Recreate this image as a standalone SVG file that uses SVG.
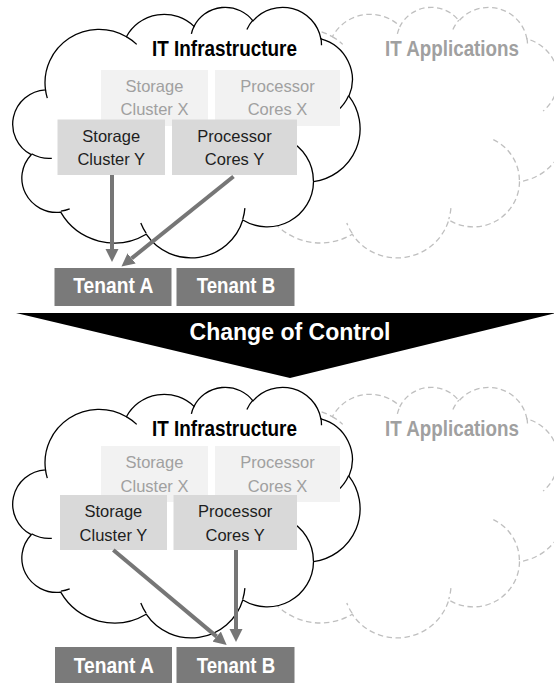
<svg xmlns="http://www.w3.org/2000/svg" xmlns:xlink="http://www.w3.org/1999/xlink" width="554" height="683" viewBox="0 0 554 683">
<style>
.cloud{fill:#fff;stroke:#000;stroke-width:1.3}
.tails{fill:none;stroke:#000;stroke-width:1.3}
.dcloud{fill:#fff;stroke:#bfbfbf;stroke-width:1.3;stroke-dasharray:5.5 3.5}
.dtails{fill:none;stroke:#bfbfbf;stroke-width:1.3;stroke-dasharray:5.5 3.5}
.bx{fill:#f2f2f2}
.by{fill:#d9d9d9}
.bt{fill:#7a7a7a}
text{font-family:"Liberation Sans",Arial,sans-serif}
.tx{font-size:16.5px;fill:#a0a0a0;text-anchor:middle}
.ty{font-size:16.5px;fill:#1e1e1e;text-anchor:middle}
.tt{font-size:22px;font-weight:bold;fill:#fff}
.h{font-size:22px;font-weight:bold;fill:#000}
.ha{font-size:22px;font-weight:bold;fill:#a0a0a0}
.ban{font-size:23px;font-weight:bold;fill:#fff;text-anchor:middle}
.arr{stroke:#767676;stroke-width:4;fill:none;marker-end:url(#ah)}
</style>
<defs>
<marker id="ah" markerUnits="userSpaceOnUse" markerWidth="14" markerHeight="14" viewBox="0 -7 14 14" refX="0" refY="0" orient="auto">
<path d="M0,-6.5 L13,0 L0,6.5 Z" fill="#767676"/>
</marker>
<path id="cloudShape" d="M45.5,89.8 A54.02,53.3 0 0 1 126.4,36.7 A42.66,42.15 0 0 1 194,26.4 A34.92,34.48 0 0 1 253,20.9 A38.86,38.25 0 0 1 320.9,38.9 A42.66,42.18 0 0 1 348.9,96.2 A54.2,53.48 0 0 1 313.5,181.7 A46.28,45.63 0 0 1 242.8,220 A54.02,53.45 0 0 1 146.2,234.2 A61.76,61.15 0 0 1 60.7,212.2 A34.88,34.32 0 0 1 31.2,154.7 A34.76,34.48 0 0 1 45.5,89.8 Z"/>
<path id="cloudTails" d="M51.8,158.3 A34.76,34.48 0 0 1 31.6,153.7 M69.7,208.9 A34.88,34.32 0 0 1 60.9,211.1 M146.1,233.2 A54.02,53.45 0 0 1 140.8,223.1 M244.9,208.1 A54.02,53.45 0 0 1 242.8,219.1 M287.3,139.6 A46.28,45.63 0 0 1 313.4,181 M348.7,95.6 A42.66,42.18 0 0 1 337.1,111.1 M320.9,38 A38.86,38.25 0 0 1 321.5,45.3 M246.9,29.4 A38.86,38.25 0 0 1 252.9,20.1 M191.4,33.9 A34.92,34.48 0 0 1 194.3,25.8 M126.3,36.6 A54.02,53.3 0 0 1 136.7,44.4 M47.3,98.1 A54.02,53.3 0 0 1 45.5,89.8"/>
</defs>

<!-- TOP SECTION -->
<g id="apps-cloud-top">
<use xlink:href="#cloudShape" class="dcloud" transform="translate(206,0)"/>
<use xlink:href="#cloudTails" class="dtails" transform="translate(206,0)"/>
<text class="ha" x="385" y="56" textLength="134" lengthAdjust="spacingAndGlyphs">IT Applications</text>
</g>
<g id="infra-cloud-top">
<use xlink:href="#cloudShape" class="cloud"/>
<use xlink:href="#cloudTails" class="tails"/>
<text class="h" x="152" y="56" textLength="145" lengthAdjust="spacingAndGlyphs">IT Infrastructure</text>
</g>
<g id="storage-x-top">
<rect class="bx" x="101" y="70" width="107" height="56"/>
<text class="tx" x="154.5" y="91.7">Storage</text>
<text class="tx" x="154.5" y="115">Cluster X</text>
</g>
<g id="processor-x-top">
<rect class="bx" x="215" y="70" width="125" height="56"/>
<text class="tx" x="277.5" y="91.7">Processor</text>
<text class="tx" x="277.5" y="115">Cores X</text>
</g>
<g id="storage-y-top">
<rect class="by" x="57.5" y="119.5" width="107.5" height="55.5"/>
<text class="ty" x="111.2" y="141.5">Storage</text>
<text class="ty" x="111.2" y="165">Cluster Y</text>
</g>
<g id="processor-y-top">
<rect class="by" x="172" y="119.5" width="125" height="55.5"/>
<text class="ty" x="234.5" y="141.5">Processor</text>
<text class="ty" x="234.5" y="165">Cores Y</text>
</g>
<g id="tenant-a-top">
<rect class="bt" x="54.5" y="268" width="117" height="38"/>
<text class="tt" x="73.3" y="293.3" textLength="80" lengthAdjust="spacingAndGlyphs">Tenant A</text>
</g>
<g id="tenant-b-top">
<rect class="bt" x="176.5" y="268" width="118" height="38"/>
<text class="tt" x="196.7" y="293.3" textLength="78.5" lengthAdjust="spacingAndGlyphs">Tenant B</text>
</g>

<!-- BANNER -->
<g id="change-of-control">
<polygon points="16,313 556,313 290,378" fill="#000"/>
<text class="ban" x="290" y="340" textLength="201" lengthAdjust="spacingAndGlyphs">Change of Control</text>
</g>

<!-- BOTTOM SECTION -->
<g id="apps-cloud-bottom">
<use xlink:href="#cloudShape" class="dcloud" transform="translate(206,380)"/>
<use xlink:href="#cloudTails" class="dtails" transform="translate(206,380)"/>
<text class="ha" x="385" y="436" textLength="134" lengthAdjust="spacingAndGlyphs">IT Applications</text>
</g>
<g id="infra-cloud-bottom">
<use xlink:href="#cloudShape" class="cloud" transform="translate(0,380)"/>
<use xlink:href="#cloudTails" class="tails" transform="translate(0,380)"/>
<text class="h" x="152" y="436" textLength="145" lengthAdjust="spacingAndGlyphs">IT Infrastructure</text>
</g>
<g id="storage-x-bottom">
<rect class="bx" x="101" y="446" width="107" height="56"/>
<text class="tx" x="154.5" y="468">Storage</text>
<text class="tx" x="154.5" y="491.5">Cluster X</text>
</g>
<g id="processor-x-bottom">
<rect class="bx" x="215" y="446" width="125" height="56"/>
<text class="tx" x="277.5" y="468">Processor</text>
<text class="tx" x="277.5" y="491.5">Cores X</text>
</g>
<g id="storage-y-bottom">
<rect class="by" x="60" y="495" width="107" height="55"/>
<text class="ty" x="113.4" y="517">Storage</text>
<text class="ty" x="113.4" y="540.5">Cluster Y</text>
</g>
<g id="processor-y-bottom">
<rect class="by" x="173.5" y="495" width="123.5" height="55"/>
<text class="ty" x="235.2" y="517">Processor</text>
<text class="ty" x="235.2" y="540.5">Cores Y</text>
</g>
<g id="tenant-a-bottom">
<rect class="bt" x="55" y="647" width="117" height="38"/>
<text class="tt" x="73.8" y="672.5" textLength="80" lengthAdjust="spacingAndGlyphs">Tenant A</text>
</g>
<g id="tenant-b-bottom">
<rect class="bt" x="176.5" y="647" width="118" height="38"/>
<text class="tt" x="196.7" y="672.5" textLength="78.5" lengthAdjust="spacingAndGlyphs">Tenant B</text>
</g>

<!-- CONNECTORS -->
<g id="connectors">
<line class="arr" x1="112" y1="175" x2="112" y2="249"/>
<line class="arr" x1="233.5" y1="176.5" x2="131.6" y2="258.4"/>
<line class="arr" x1="113.3" y1="550" x2="216.7" y2="636.6"/>
<line class="arr" x1="236" y1="550" x2="236" y2="629"/>
</g>
</svg>
